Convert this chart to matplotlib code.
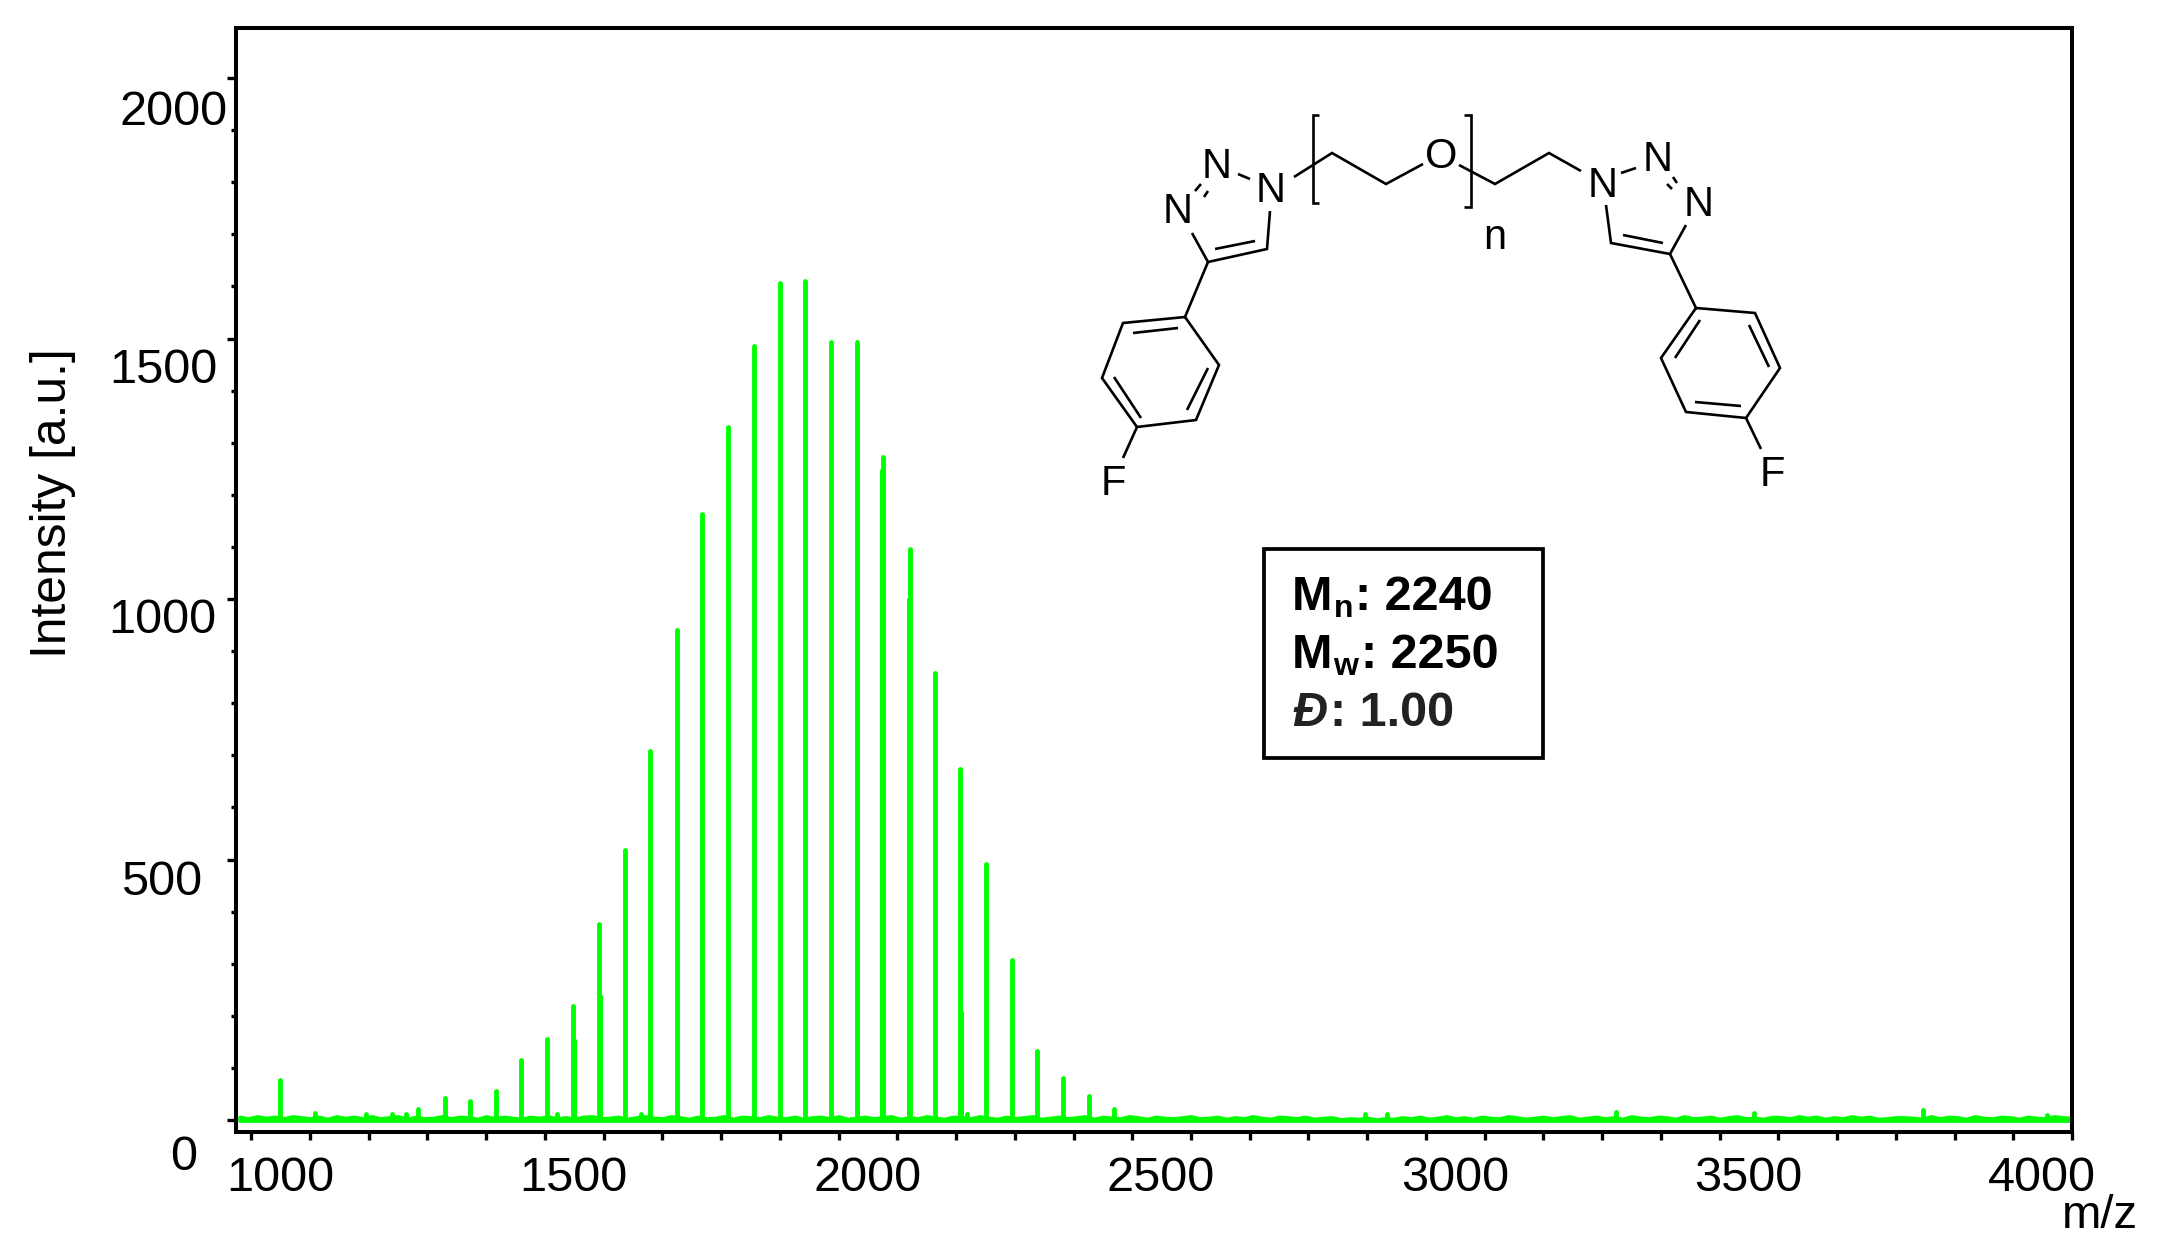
import matplotlib
matplotlib.use("Agg")
import matplotlib.pyplot as plt
from matplotlib.transforms import ScaledTranslation
from matplotlib.patches import Rectangle

plt.rcParams['font.family'] = ['Liberation Sans', 'DejaVu Sans']

W, H, DPI = 2157, 1260, 100
GREEN = '#00FF00'

# --- data ---
peak_mz = [949, 1009, 1095, 1140, 1163, 1184, 1230, 1272, 1317, 1359, 1404, 1448, 1492,
           1536, 1579, 1625, 1667, 1712, 1756, 1800, 1843, 1887, 1931, 1976, 2022,
           2064, 2107, 2151, 2195, 2238, 2282, 2326, 2369,
           1563, 2796, 2833, 3224, 3459, 3746, 3958, 2119, 1420]
peak_int = [77, 13, 12, 12, 12, 21, 42, 36, 56, 115, 155, 219, 376,
            518, 708, 940, 1163, 1330, 1486, 1607, 1610, 1493, 1493, 1272, 1096,
            858, 674, 491, 307, 132, 81, 46, 21,
            12, 11, 11, 16, 13, 19, 10, 12, 11]
shoulder_mz = [1973, 2018, 2110, 1451, 1495]
shoulder_int = [1250, 1002, 209, 155, 240]

noise_floor = -1
noise_mz = [880, 895, 910, 925, 940, 955, 970, 985, 1000, 1015, 1030, 1045, 1060, 1075,
            1090, 1105, 1120, 1135, 1150, 1165, 1180, 1195, 1210, 1225, 1240, 1255, 1270,
            1285, 1300, 1315, 1330, 1345, 1360, 1375, 1390, 1405, 1420, 1435, 1450, 1465,
            1480, 1495, 1510, 1525, 1540, 1555, 1570, 1585, 1600, 1615, 1630, 1645, 1660,
            1675, 1690, 1705, 1720, 1735, 1750, 1765, 1780, 1795, 1810, 1825, 1840, 1855,
            1870, 1885, 1900, 1915, 1930, 1945, 1960, 1975, 1990, 2005, 2020, 2035, 2050,
            2065, 2080, 2095, 2110, 2125, 2140, 2155, 2170, 2185, 2200, 2215, 2230, 2245,
            2260, 2275, 2290, 2305, 2320, 2335, 2350, 2365, 2380, 2395, 2410, 2425, 2440,
            2455, 2470, 2485, 2500, 2515, 2530, 2545, 2560, 2575, 2590, 2605, 2620, 2635,
            2650, 2665, 2680, 2695, 2710, 2725, 2740, 2755, 2770, 2785, 2800, 2815, 2830,
            2845, 2860, 2875, 2890, 2905, 2920, 2935, 2950, 2965, 2980, 2995, 3010, 3025,
            3040, 3055, 3070, 3085, 3100, 3115, 3130, 3145, 3160, 3175, 3190, 3205, 3220,
            3235, 3250, 3265, 3280, 3295, 3310, 3325, 3340, 3355, 3370, 3385, 3400, 3415,
            3430, 3445, 3460, 3475, 3490, 3505, 3520, 3535, 3550, 3565, 3580, 3595, 3610,
            3625, 3640, 3655, 3670, 3685, 3700, 3715, 3730, 3745, 3760, 3775, 3790, 3805,
            3820, 3835, 3850, 3865, 3880, 3895, 3910, 3925, 3940, 3955, 3970, 3985, 4000]
noise_int = [6, 3, 7, 4, 6, 3, 7, 5, 3, 6, 2, 7, 4, 6, 3, 7, 3, 5, 7, 2,
             6, 3, 4, 7, 3, 6, 5, 2, 7, 3, 6, 4, 2, 6, 4, 7, 3, 5, 2, 6,
             7, 3, 4, 6, 2, 5, 7, 4, 3, 7, 5, 2, 6, 3, 4, 7, 2, 6, 5, 3,
             7, 4, 3, 6, 2, 5, 6, 3, 7, 2, 4, 6, 3, 5, 7, 2, 5, 3, 7, 4,
             2, 6, 5, 3, 7, 4, 2, 6, 3, 5, 7, 2, 4, 6, 3, 5, 7, 2, 6, 4,
             3, 7, 5, 2, 6, 4, 3, 5, 7, 3, 4, 6, 2, 5, 3, 7, 4, 2, 6, 5,
             3, 6, 2, 4, 5, 1, 3, 2, 4, 1, 3, 2, 5, 3, 6, 2, 4, 7, 3, 5,
             2, 6, 4, 3, 7, 5, 2, 4, 6, 3, 5, 7, 2, 4, 6, 3, 5, 2, 7, 4,
             3, 6, 5, 2, 7, 3, 4, 6, 2, 5, 7, 3, 4, 2, 6, 5, 3, 7, 4, 6,
             2, 5, 3, 7, 4, 6, 2, 3, 5,
             5, 4, 2, 7, 3, 6, 5, 2, 7, 4, 3, 6, 5, 2, 6, 4, 3, 7, 5, 4]

x_major = [1000, 1500, 2000, 2500, 3000, 3500, 4000]
x_minor = [900, 1100, 1200, 1300, 1400, 1600, 1700, 1800, 1900, 2100, 2200, 2300, 2400,
           2600, 2700, 2800, 2900, 3100, 3200, 3300, 3400, 3600, 3700, 3800, 3900]
y_major = [0, 500, 1000, 1500, 2000]
y_minor = [100, 200, 300, 400, 600, 700, 800, 900, 1100, 1200, 1300, 1400,
           1600, 1700, 1800, 1900]

fig = plt.figure(figsize=(W / DPI, H / DPI), dpi=DPI, facecolor='white')
ax = fig.add_axes([236 / W, 1 - 1132 / H, 1836 / W, 1104 / H])
ax.set_xlim(874, 4000)
ax.set_ylim(-23, 2096)

ax.fill_between(noise_mz, noise_floor, noise_int, color=GREEN, lw=2.6, zorder=2)
ax.vlines(peak_mz, 4, peak_int, color=GREEN, lw=3.5, capstyle='round', zorder=3)
ax.vlines(shoulder_mz, 4, shoulder_int, color=GREEN, lw=2.2, capstyle='butt', zorder=3)

for s in ax.spines.values():
    s.set_linewidth(2.9)

ax.set_xticks(x_major)
ax.set_xticks(x_minor, minor=True)
ax.set_yticks(y_major)
ax.set_yticks(y_minor, minor=True)
ax.tick_params(axis='x', which='both', length=5.5, width=2.4, direction='out')
ax.tick_params(axis='x', which='major', pad=12, labelsize=35)
ax.tick_params(axis='y', which='major', length=6.5, width=2.4, pad=0, labelsize=35)
ax.tick_params(axis='y', which='minor', length=3.6, width=2.4)

# The tick labels of the reference sit beside their ticks, not on them.
for tick in ax.xaxis.get_major_ticks():
    lab = tick.label1
    lab.set_transform(lab.get_transform() + ScaledTranslation(-30 / DPI, 0, fig.dpi_scale_trans))
y_off = {0: (-30, 32), 500: (-25, 18), 1000: (-11, 16), 1500: (-9, 27), 2000: (1, 29)}
for val, tick in zip(y_major, ax.yaxis.get_major_ticks()):
    dx, dy = y_off[val]
    lab = tick.label1
    lab.set_transform(lab.get_transform() + ScaledTranslation(dx / DPI, -dy / DPI, fig.dpi_scale_trans))

# overlay in image pixels for the annotations and the structural formula
ov = fig.add_axes([0, 0, 1, 1], facecolor='none', zorder=5)
ov.set_xlim(0, W)
ov.set_ylim(H, 0)
ov.axis('off')

ov.text(53, 503, 'Intensity [a.u.]', rotation=90, ha='center', va='center', fontsize=35.8)
ov.text(2100, 1216, 'm/z', ha='center', va='center', fontsize=34)

# statistics box
ov.add_patch(Rectangle((1264, 549), 279, 209, fc='white', ec='black', lw=2.7, zorder=1))
bold = dict(fontsize=35, fontweight='bold', color='black', va='baseline', zorder=2)
ov.text(1292, 610, 'M', **bold)
ov.text(1334, 617, 'n', fontsize=23, fontweight='bold', va='baseline', zorder=2)
ov.text(1355, 610, ': 2240', **bold)
ov.text(1292, 668, 'M', **bold)
ov.text(1333, 675, 'w', fontsize=23, fontweight='bold', va='baseline', zorder=2)
ov.text(1361, 668, ': 2250', **bold)
ov.text(1292, 726, '\u0110', fontsize=35, fontweight='bold', fontstyle='italic', color='#222222',
        va='baseline', zorder=2)
ov.text(1330, 726, ': 1.00', fontsize=35, fontweight='bold', color='#222222', va='baseline', zorder=2)

# structural formula (drawing, in image pixels)
bonds = [
    # left triazole
    [(1250, 179), (1238, 174)], [(1201, 184), (1195, 191)], [(1208, 191), (1204, 197)],
    [(1192, 233), (1208, 262), (1267, 249), (1270, 211)], [(1215, 249), (1255, 241)],
    # left phenyl
    [(1208, 262), (1185, 317)],
    [(1185, 317), (1123, 323), (1102, 378), (1137, 427), (1196, 420), (1219, 365), (1185, 317)],
    [(1133, 333), (1178, 328)], [(1114, 377), (1141, 418)], [(1187, 410), (1208, 368)],
    [(1137, 427), (1123, 458)],
    # chain
    [(1294, 177), (1332, 153), (1386, 184), (1423, 164)],
    [(1459, 165), (1495, 184), (1549, 153), (1581, 171)],
    # brackets
    [(1319, 115), (1313, 115), (1313, 203), (1319, 203)],
    [(1464, 115), (1471, 115), (1471, 207), (1464, 207)],
    # right triazole
    [(1621, 173), (1636, 168)], [(1673, 177), (1677, 183)], [(1667, 184), (1672, 189)],
    [(1686, 225), (1670, 254), (1611, 243), (1606, 205)], [(1663, 243), (1623, 235)],
    # right phenyl
    [(1670, 254), (1696, 308)],
    [(1696, 308), (1755, 313), (1780, 368), (1746, 418), (1686, 412), (1661, 358), (1696, 308)],
    [(1700, 320), (1675, 358)], [(1749, 325), (1769, 367)], [(1695, 402), (1741, 406)],
    [(1746, 418), (1761, 449)],
]
for seg in bonds:
    ov.plot([p[0] for p in seg], [p[1] for p in seg], color='black', lw=1.9,
            solid_joinstyle='miter', solid_capstyle='butt')
atoms = [('N', 1271, 191), ('N', 1217, 167), ('N', 1178, 212), ('F', 1113, 484),
         ('O', 1441, 157), ('n', 1495, 238),
         ('N', 1603, 186), ('N', 1658, 160), ('N', 1699, 205), ('F', 1772, 475)]
for s, x, y in atoms:
    ov.text(x, y, s, fontsize=30, ha='center', va='center', color='black')

fig.savefig('out.png', dpi=DPI, facecolor='white')
